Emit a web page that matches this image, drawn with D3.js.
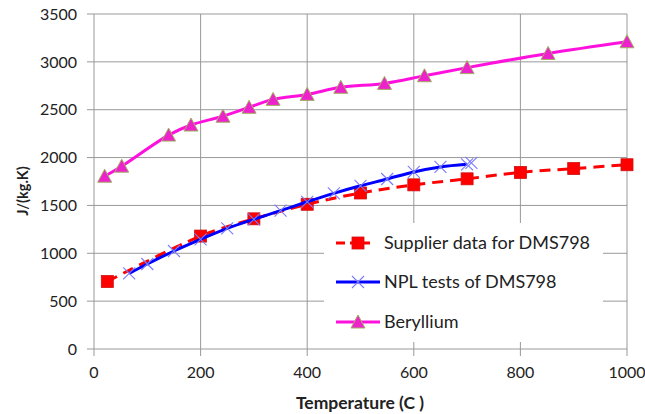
<!DOCTYPE html>
<html>
<head>
<meta charset="utf-8">
<script src="https://cdn.jsdelivr.net/npm/d3@7"></script>
<style>
  body { margin: 0; background: #fff; }
  svg text { font-family: Lato, "Open Sans", sans-serif; fill: #222; }
</style>
</head>
<body>
<div id="chart"></div>
<script>
// temperature (C) vs specific heat J/(kg.K)
var supplierT = [25, 200, 300, 400, 500, 600, 700, 800, 900, 1000];
var supplierCp = [705, 1180, 1360, 1512, 1630, 1715, 1778, 1845, 1885, 1925];

var nplT = [66, 100, 150, 200, 250, 300, 350, 400, 450, 500, 550, 600, 650, 700, 708];
var nplCp = [790, 888, 1024, 1146, 1260, 1355, 1445, 1538, 1626, 1705, 1776, 1850, 1902, 1930, 1945];

var berylT = [20, 52, 140, 182, 242, 291, 336, 400, 463, 545, 620, 700, 852, 1000];
var berylCp = [1805, 1910, 2235, 2340, 2432, 2525, 2608, 2660, 2734, 2775, 2855, 2940, 3088, 3210];

var xTicks = [0, 200, 400, 600, 800, 1000];
var yTicks = [0, 500, 1000, 1500, 2000, 2500, 3000, 3500];
var seriesNames = ["Supplier data for DMS798", "NPL tests of DMS798", "Beryllium"];

var W = 645, H = 414;
var svg = d3.select("#chart").append("svg")
    .attr("width", W)
    .attr("height", H);

var x = d3.scaleLinear().domain([0, 1000]).range([94, 627]);
var y = d3.scaleLinear().domain([0, 3500]).range([349, 14]);

// grid
svg.append("g").selectAll("line").data(yTicks).enter().append("line")
    .attr("x1", x(0) - 7).attr("x2", x(1000))
    .attr("y1", function (d) { return y(d); })
    .attr("y2", function (d) { return y(d); })
    .attr("stroke", "#999").attr("stroke-width", 1);
svg.append("g").selectAll("line").data(xTicks).enter().append("line")
    .attr("x1", function (d) { return x(d); })
    .attr("x2", function (d) { return x(d); })
    .attr("y1", y(3500)).attr("y2", y(0) + 7)
    .attr("stroke", "#999").attr("stroke-width", 1);

// tick labels
svg.append("g").selectAll("text").data(yTicks).enter().append("text")
    .attr("x", x(0) - 17)
    .attr("y", function (d) { return y(d); })
    .attr("dy", "0.36em")
    .attr("text-anchor", "end")
    .attr("font-size", 16)
    .text(function (d) { return d; });
svg.append("g").selectAll("text").data(xTicks).enter().append("text")
    .attr("x", function (d) { return x(d); })
    .attr("y", y(0) + 29)
    .attr("text-anchor", "middle")
    .attr("font-size", 16)
    .text(function (d) { return d; });

// axis titles
svg.append("text")
    .attr("x", 360).attr("y", 409)
    .attr("text-anchor", "middle")
    .attr("font-size", 17.5).attr("font-weight", "bold")
    .text("Temperature (C )");
svg.append("text")
    .attr("transform", "translate(28,191) rotate(-90)")
    .attr("text-anchor", "middle")
    .attr("font-size", 14.5).attr("font-weight", "bold")
    .text("J/(kg.K)");

var line = d3.line()
    .x(function (d) { return x(d[0]); })
    .y(function (d) { return y(d[1]); })
    .curve(d3.curveCatmullRom.alpha(0.5));

var supplier = d3.zip(supplierT, supplierCp);
var npl = d3.zip(nplT, nplCp);
var beryl = d3.zip(berylT, berylCp);

function drawSquare(g, px, py) {
    g.append("rect")
        .attr("x", px - 6).attr("y", py - 6)
        .attr("width", 12).attr("height", 12)
        .attr("fill", "#ff0000").attr("stroke", "#d01010").attr("stroke-width", 0.8);
}
function drawCross(g, px, py) {
    g.append("path")
        .attr("d", "M" + (px - 6) + "," + (py - 6) + "L" + (px + 6) + "," + (py + 6) +
            "M" + (px - 6) + "," + (py + 6) + "L" + (px + 6) + "," + (py - 6))
        .attr("stroke", "#7a7aff").attr("stroke-width", 1.1).attr("fill", "none");
}
function drawTriangle(g, px, py) {
    g.append("path")
        .attr("d", "M" + px + "," + (py - 7) + "L" + (px + 7) + "," + (py + 6) + "L" + (px - 7) + "," + (py + 6) + "Z")
        .attr("fill", "#ee22cc").attr("stroke", "#a0b060").attr("stroke-width", 1);
}

// supplier
svg.append("path").datum(supplier)
    .attr("d", line)
    .attr("fill", "none").attr("stroke", "#ff0000")
    .attr("stroke-width", 3).attr("stroke-dasharray", "11,7");
var gs = svg.append("g");
supplier.forEach(function (d) { drawSquare(gs, x(d[0]), y(d[1])); });

// npl
svg.append("path").datum(npl.slice(0, 14))
    .attr("d", line)
    .attr("fill", "none").attr("stroke", "#0000ff").attr("stroke-width", 3);
var gn = svg.append("g");
npl.forEach(function (d) { drawCross(gn, x(d[0]), y(d[1])); });

// beryllium
svg.append("path").datum(beryl)
    .attr("d", line)
    .attr("fill", "none").attr("stroke", "#ff11dd").attr("stroke-width", 3);
var gb = svg.append("g");
beryl.forEach(function (d) { drawTriangle(gb, x(d[0]), y(d[1])); });

// legend
var lg = svg.append("g");
lg.append("rect")
    .attr("x", 324).attr("y", 223).attr("width", 279).attr("height", 119)
    .attr("fill", "#fff");
var rowY = [243, 282, 322];
seriesNames.forEach(function (name, i) {
    var yy = rowY[i];
    var seg = lg.append("line")
        .attr("x1", 336).attr("x2", 380)
        .attr("y1", yy).attr("y2", yy)
        .attr("stroke-width", 3);
    if (i === 0) {
        seg.attr("stroke", "#ff0000").attr("stroke-dasharray", "9,5").attr("x2", 370);
        drawSquare(lg, 358, yy);
    } else if (i === 1) {
        seg.attr("stroke", "#0000ff");
        drawCross(lg, 358, yy);
    } else {
        seg.attr("stroke", "#ff11dd");
        drawTriangle(lg, 358, yy);
    }
    lg.append("text")
        .attr("x", 384).attr("y", yy)
        .attr("dy", "0.36em")
        .attr("font-size", 18)
        .text(name);
});
</script>
</body>
</html>
